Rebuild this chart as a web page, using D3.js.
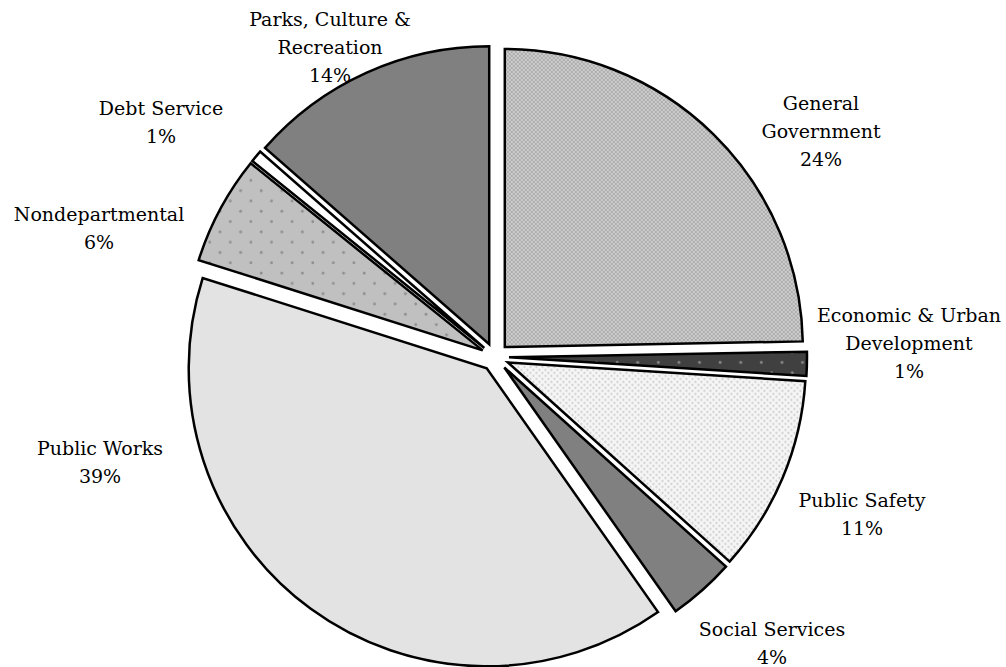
<!DOCTYPE html>
<html>
<head>
<meta charset="utf-8">
<script src="https://cdn.jsdelivr.net/npm/d3@7"></script>
<style>
  html, body { margin: 0; padding: 0; background: #fff; }
  svg text { font-family: "DejaVu Serif", serif; font-size: 19px; fill: #000; }
</style>
</head>
<body>
<div id="chart"></div>
<script>
// slices, clockwise from 12 o'clock
const categories = ['General Government', 'Economic & Urban Development', 'Public Safety',
  'Social Services', 'Public Works', 'Nondepartmental', 'Debt Service', 'Parks, Culture & Recreation'];
// share of budget (percent)
const shares = [24.7, 1.3, 10.65, 3.6, 39.65, 5.9, 0.65, 13.55];
// the rounded percentages printed on the chart
const shownPct = [24, 1, 11, 4, 39, 6, 1, 14];
// how the category names wrap
const labelLines = [
  ['General', 'Government'],
  ['Economic & Urban', 'Development'],
  ['Public Safety'],
  ['Social Services'],
  ['Public Works'],
  ['Nondepartmental'],
  ['Debt Service'],
  ['Parks, Culture &', 'Recreation']
];

const width = 1006, height = 667;
const cx = 495, cy = 357;
const radius = 298;
const explode = 14;
const lineH = 28;

// data label anchors (centre x, first baseline), placed like the original "best fit"
const labelAt = [[821, 110], [909, 322], [862, 507], [772, 636],
                 [100, 455], [99, 221], [161, 115], [330, 26]];

const fills = ['url(#pGrid)', 'url(#pDarkDots)', 'url(#pFineDots)', '#808080',
               '#e3e3e3', 'url(#pGrayDots)', '#ffffff', '#808080'];

var svg = d3.select('#chart').append('svg')
  .attr('width', width)
  .attr('height', height);

svg.append('rect').attr('width', width).attr('height', height).attr('fill', '#fff');

// fill patterns
var defs = svg.append('defs');

var p1 = defs.append('pattern').attr('id', 'pGrid')
  .attr('patternUnits', 'userSpaceOnUse').attr('width', 4).attr('height', 4);
p1.append('rect').attr('width', 4).attr('height', 4).attr('fill', '#adadad');
p1.append('rect').attr('width', 2).attr('height', 2).attr('fill', '#cdcdcd');
p1.append('rect').attr('x', 2).attr('y', 2).attr('width', 2).attr('height', 2).attr('fill', '#cdcdcd');

function dotPattern(id, bg, dot, size, r){
  var p = defs.append('pattern').attr('id', id)
    .attr('patternUnits', 'userSpaceOnUse').attr('width', size).attr('height', size);
  p.append('rect').attr('width', size).attr('height', size).attr('fill', bg);
  p.append('circle').attr('cx', size/4).attr('cy', size/4).attr('r', r).attr('fill', dot);
  p.append('circle').attr('cx', 3*size/4).attr('cy', 3*size/4).attr('r', r).attr('fill', dot);
}
dotPattern('pDarkDots', '#404040', '#8a8a8a', 20.6, 1.4);
dotPattern('pGrayDots', '#c0c0c0', '#8e8e8e', 20.6, 1.4);
dotPattern('pFineDots', '#f6f6f6', '#c6c6c6', 6, 1.1);

var pie = d3.pie().sort(null).value(d => d)
  .startAngle(0).endAngle(2 * Math.PI);
var arcs = pie(shares);

var arc = d3.arc().innerRadius(0).outerRadius(radius);

var g = svg.append('g').attr('transform', `translate(${cx},${cy})`);

g.selectAll('path')
  .data(arcs)
  .enter()
  .append('path')
  .attr('transform', d => {
    var mid = (d.startAngle + d.endAngle) / 2;
    return `translate(${explode * Math.sin(mid)},${-explode * Math.cos(mid)})`;
  })
  .attr('d', arc)
  .attr('fill', (d, i) => fills[i])
  .attr('stroke', '#000')
  .attr('stroke-width', 2.5)
  .attr('stroke-linejoin', 'miter');

// labels
var labels = svg.append('g')
  .selectAll('text')
  .data(categories)
  .enter()
  .append('text')
  .attr('text-anchor', 'middle')
  .attr('x', (d, i) => labelAt[i][0])
  .attr('y', (d, i) => labelAt[i][1]);

labels.each(function(d, i){
  var t = d3.select(this);
  var lines = labelLines[i].concat([shownPct[i] + '%']);
  lines.forEach((ln, k) => {
    t.append('tspan')
      .attr('x', labelAt[i][0])
      .attr('dy', k === 0 ? 0 : lineH)
      .text(ln);
  });
});
</script>
</body>
</html>
